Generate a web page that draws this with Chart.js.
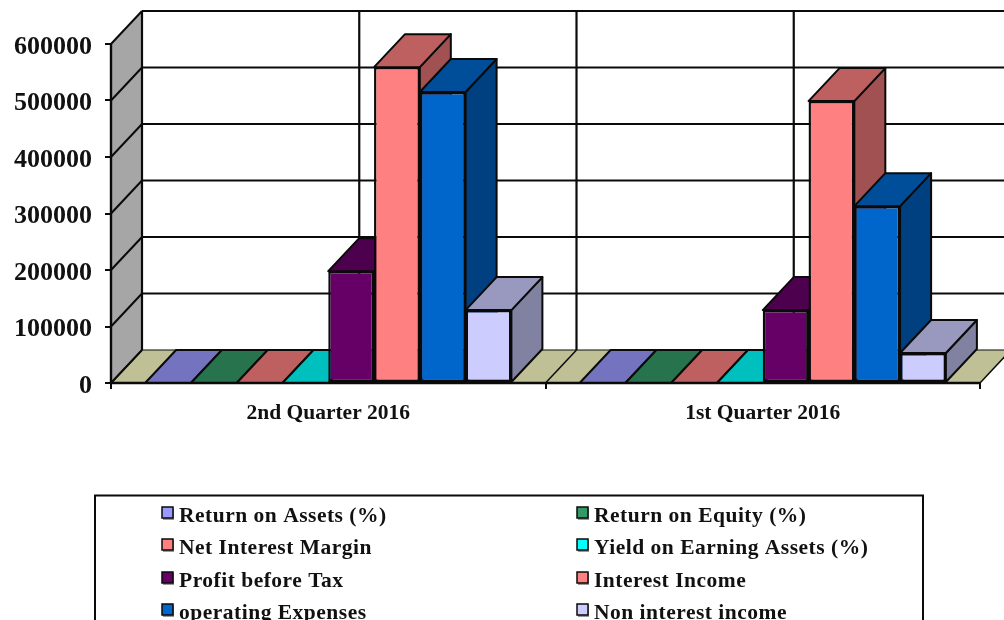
<!DOCTYPE html>
<html>
<head>
<meta charset="utf-8">
<style>
html,body{margin:0;padding:0;background:#fff;overflow:hidden}
#wrap{width:1004px;height:620px;position:relative}
canvas{display:block;filter:blur(0.7px)}
</style>
<script src="https://cdn.jsdelivr.net/npm/chart.js@4/dist/chart.umd.min.js"></script>
</head>
<body>
<div id="wrap"><canvas id="c" width="1004" height="620"></canvas></div>
<script>
const categories = ['2nd Quarter 2016', '1st Quarter 2016'];
const yTicks = [0, 100000, 200000, 300000, 400000, 500000, 600000];
const returnOnAssets = [0, 0];
const returnOnEquity = [0, 0];
const netInterestMargin = [0, 0];
const yieldOnEarningAssets = [0, 0];
const profitBeforeTax = [198000, 129000];
const interestIncome = [559000, 499000];
const operatingExpenses = [515000, 313000];
const nonInterestIncome = [129000, 53000];

const seriesNames = ['Return on Assets (%)', 'Return on Equity (%)', 'Net Interest Margin',
  'Yield on Earning Assets (%)', 'Profit before Tax', 'Interest Income', 'operating Expenses', 'Non interest income'];
const seriesValues = [returnOnAssets, returnOnEquity, netInterestMargin, yieldOnEarningAssets,
  profitBeforeTax, interestIncome, operatingExpenses, nonInterestIncome];
const seriesColors = ['#9999FF', '#339966', '#FF8080', '#00FFFF', '#660066', '#FF8080', '#0066CC', '#CCCCFF'];

const DX = 31, DY = 33;
const LINE = '#0a0a0a';
const serif = '"Liberation Serif","Times New Roman",serif';

function shade(hex, f) {
  const n = parseInt(hex.slice(1), 16);
  return 'rgb(' + [(n >> 16) & 255, (n >> 8) & 255, n & 255].map(v => Math.round(v * f)).join(',') + ')';
}
function poly(ctx, pts, fill, stroke, w) {
  ctx.beginPath();
  pts.forEach((p, i) => i ? ctx.lineTo(p[0], p[1]) : ctx.moveTo(p[0], p[1]));
  ctx.closePath();
  if (fill) { ctx.fillStyle = fill; ctx.fill(); }
  if (stroke) { ctx.strokeStyle = stroke; ctx.lineWidth = w || 2; ctx.lineJoin = 'round'; ctx.stroke(); }
}
function seg(ctx, x1, y1, x2, y2, w) {
  ctx.beginPath(); ctx.moveTo(x1, y1); ctx.lineTo(x2, y2);
  ctx.strokeStyle = LINE; ctx.lineWidth = w || 2; ctx.stroke();
}

const wallsAndBars = {
  id: 'wallsAndBars',
  beforeDatasetsDraw(chart) {
    const { ctx, scales: { x, y } } = chart;
    const L = x.getPixelForValue(-0.5), R = x.getPixelForValue(1.5);
    const T = y.getPixelForValue(600000), B = y.getPixelForValue(0);
    ctx.save();
    poly(ctx, [[L, T], [L + DX, T - DY], [L + DX, B - DY], [L, B]], '#A6A6A6');
    poly(ctx, [[L, B], [L + DX, B - DY], [R + DX, B - DY], [R, B]], '#C0C096');
    yTicks.forEach(v => {
      const p = y.getPixelForValue(v);
      seg(ctx, L, p, L + DX, p - DY, 2);
      seg(ctx, L + DX, p - DY, R + DX, p - DY, v === 0 ? 1 : 2.2);
    });
    [-0.5, 0, 0.5, 1, 1.5].forEach(v => {
      const p = x.getPixelForValue(v);
      seg(ctx, p + DX, T - DY, p + DX, B - DY, 2.2);
      seg(ctx, p, B, p + DX, B - DY, 1.5);
    });
    categories.forEach((_, c) => {
      seriesValues.forEach((_, s) => {
        const bar = chart.getDatasetMeta(s).data[c];
        const col = seriesColors[s];
        const half = bar.width / 2, l = bar.x - half, r = bar.x + half, t = bar.y, b = bar.base;
        poly(ctx, [[r, t], [r + DX, t - DY], [r + DX, b - DY], [r, b]], shade(col, 0.63), LINE, 2);
        poly(ctx, [[l, t], [l + DX, t - DY], [r + DX, t - DY], [r, t]], shade(col, 0.75), LINE, 2);
      });
    });
    ctx.restore();
  },
  afterDatasetsDraw(chart) {
    const { ctx, scales: { x, y } } = chart;
    const L = x.getPixelForValue(-0.5), R = x.getPixelForValue(1.5);
    const T = y.getPixelForValue(600000), B = y.getPixelForValue(0);
    ctx.save();
    seg(ctx, L, B, R, B, 2.4);
    seg(ctx, L, T, L, B, 2.4);
    ctx.restore();
  },
  afterDraw(chart) {
    const { ctx } = chart;
    ctx.save();
    ctx.strokeStyle = LINE; ctx.lineWidth = 2;
    ctx.strokeRect(95, 495.5, 828, 140);
    ctx.font = 'bold 21.5px ' + serif;
    ctx.letterSpacing = '0.5px';
    ctx.textBaseline = 'middle'; ctx.textAlign = 'left';
    const rowY = [516, 548, 581, 613];
    seriesNames.forEach((name, i) => {
      const col = i % 2, ry = rowY[Math.floor(i / 2)];
      const sx = col ? 577 : 162;
      ctx.fillStyle = '#999'; ctx.fillRect(sx + 1, ry - 8, 11, 12);
      ctx.fillStyle = seriesColors[i]; ctx.fillRect(sx, ry - 9, 11, 11);
      ctx.strokeStyle = LINE; ctx.lineWidth = 1.5; ctx.strokeRect(sx, ry - 9, 11, 11);
      ctx.fillStyle = '#111';
      ctx.fillText(name, col ? 594 : 179, ry);
    });
    ctx.restore();
  }
};

new Chart(document.getElementById('c'), {
  type: 'bar',
  data: {
    labels: categories,
    datasets: seriesNames.map((name, i) => ({
      label: name,
      data: seriesValues[i],
      backgroundColor: seriesColors[i],
      borderColor: LINE,
      borderWidth: 2.4,
      borderSkipped: false,
      categoryPercentage: 0.843,
      barPercentage: 1
    }))
  },
  options: {
    responsive: false,
    animation: false,
    layout: { padding: { top: 44, right: 24, left: 0, bottom: 0 } },
    plugins: { legend: { display: false }, tooltip: { enabled: false }, title: { display: false } },
    scales: {
      x: {
        afterFit(s) { s.height = 237; },
        grid: { display: true, drawOnChartArea: false, drawTicks: true, tickLength: 6, color: LINE, lineWidth: 2 },
        border: { display: true, color: LINE, width: 2 },
        ticks: { color: '#111', font: { family: serif, size: 21.5, weight: 'bold' }, padding: 12, maxRotation: 0 }
      },
      y: {
        min: 0, max: 600000,
        afterFit(s) { s.width = 111; },
        afterBuildTicks(s) { s.ticks = yTicks.map(v => ({ value: v })); },
        grid: { display: true, drawOnChartArea: false, drawTicks: true, tickLength: 6, color: LINE, lineWidth: 2 },
        border: { display: true, color: LINE, width: 2 },
        ticks: { color: '#111', font: { family: serif, size: 26, weight: 'bold', lineHeight: '6px' }, padding: 13,
          callback: v => ['', String(v)] }
      }
    }
  },
  plugins: [wallsAndBars]
});
</script>
</body>
</html>
